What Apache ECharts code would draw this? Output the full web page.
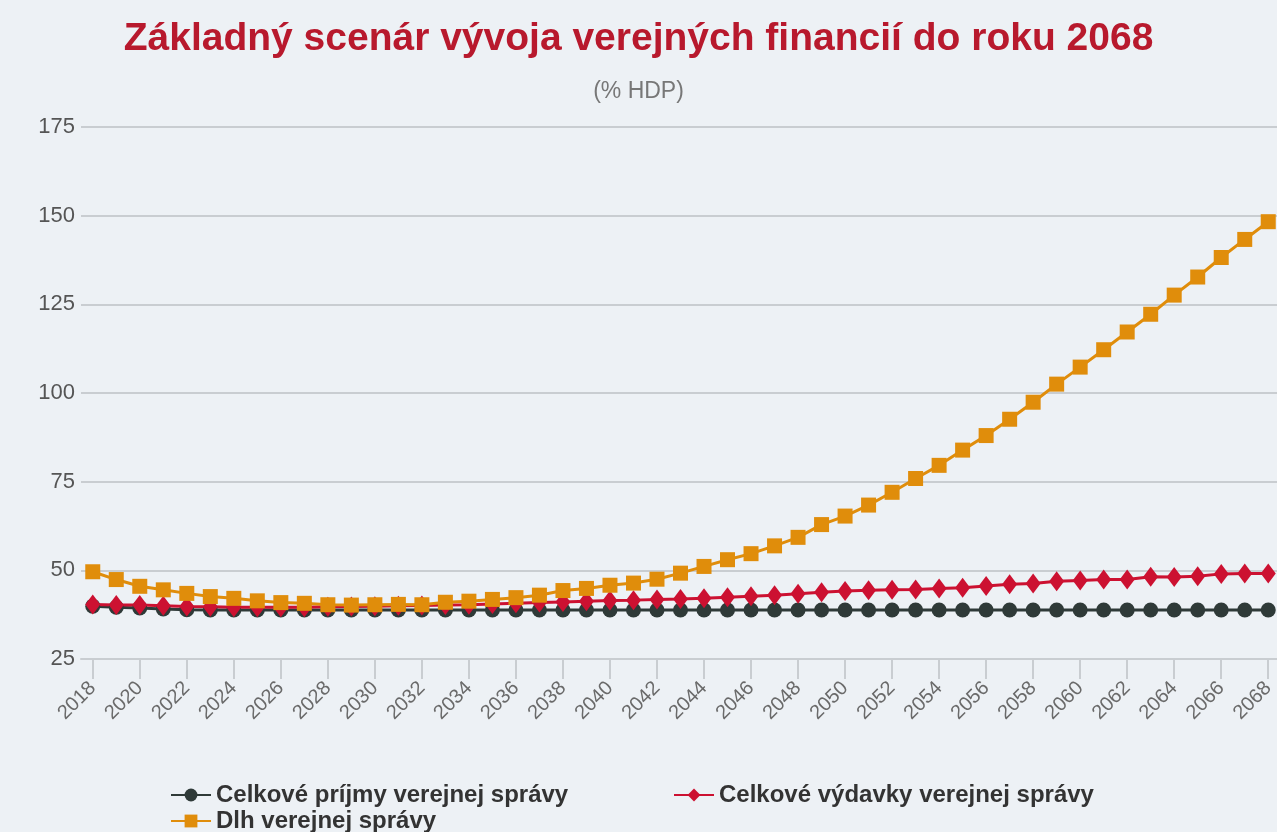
<!DOCTYPE html>
<html>
<head>
<meta charset="utf-8">
<script src="https://cdn.jsdelivr.net/npm/echarts@6/dist/echarts.min.js"></script>
<style>
html,body{margin:0;padding:0;background:#edf1f5;}
#chart{width:1277px;height:832px;}
</style>
</head>
<body>
<div id="chart"></div>
<script>
const years = [];
for (let y = 2018; y <= 2068; y++) years.push(String(y));

const revenue = [39.9,39.6,39.4,39.1,38.9,38.8,38.8,38.8,38.8,38.8,38.8,38.8,38.8,38.8,38.8,38.8,38.8,38.8,38.8,38.8,38.8,38.8,38.8,38.8,38.8,38.8,38.8,38.8,38.8,38.8,38.8,38.8,38.8,38.8,38.8,38.8,38.8,38.8,38.8,38.8,38.8,38.8,38.8,38.8,38.8,38.8,38.8,38.8,38.8,38.8,38.8];

const expenditure = [40.4,40.2,40.2,40.0,39.8,39.7,39.6,39.6,39.6,39.6,39.7,39.8,39.9,40.0,40.1,40.2,40.3,40.5,40.7,40.9,41.1,41.3,41.5,41.6,41.8,41.9,42.1,42.4,42.7,43.0,43.4,43.8,44.2,44.4,44.5,44.6,44.9,45.1,45.6,46.1,46.3,46.9,47.1,47.4,47.4,48.2,48.1,48.3,49.0,49.1,49.1];

const debt = [49.6,47.4,45.5,44.5,43.5,42.6,42.1,41.4,40.9,40.7,40.3,40.2,40.3,40.4,40.3,41.0,41.3,41.8,42.3,43.0,44.3,44.9,45.8,46.4,47.5,49.2,51.1,53.0,54.7,56.9,59.3,62.9,65.3,68.4,72.0,75.9,79.6,83.9,88.0,92.6,97.4,102.5,107.3,112.2,117.2,122.2,127.6,132.7,138.2,143.3,148.3];

const seriesNames = ['Celkové príjmy verejnej správy','Celkové výdavky verejnej správy','Dlh verejnej správy'];
const titleText = 'Základný scenár vývoja verejných financií do roku 2068';
const subtitleText = '(% HDP)';

const FONT = 'Liberation Sans, Arial, sans-serif';
const chart = echarts.init(document.getElementById('chart'));
const legendText = {fontSize:24,fontWeight:'bold',color:'#333',fontFamily:FONT};
const legendBase = {itemWidth:40,itemHeight:16,textStyle:legendText};
chart.setOption({
  backgroundColor:'#edf1f5',
  animation:false,
  textStyle:{fontFamily:FONT},
  title:[
    {text:titleText,left:'center',top:15,textStyle:{fontSize:39,fontWeight:'bold',color:'#b8192d',fontFamily:FONT}},
    {text:subtitleText,left:'center',top:75,textStyle:{fontSize:23,fontWeight:'normal',color:'#777',fontFamily:FONT}}
  ],
  legend:[
    Object.assign({data:[seriesNames[0]],left:165,top:778},legendBase),
    Object.assign({data:[seriesNames[1]],left:668,top:778},legendBase),
    Object.assign({data:[seriesNames[2]],left:165,top:804},legendBase)
  ],
  grid:{left:81,top:127,width:1199,height:532,containLabel:false,outerBoundsMode:'none'},
  xAxis:{
    type:'category',data:years,boundaryGap:true,
    axisLine:{lineStyle:{color:'#c9cdd1',width:2}},
    axisTick:{show:true,interval:1,alignWithLabel:true,length:20,lineStyle:{color:'#c9cdd1',width:2}},
    axisLabel:{interval:1,rotate:45,fontSize:20,color:'#6a6a6a',margin:26}
  },
  yAxis:{
    type:'value',min:25,max:175,interval:25,
    axisLine:{show:false},axisTick:{show:false},
    axisLabel:{fontSize:22,color:'#555',margin:6},
    splitLine:{lineStyle:{color:'#c9cdd1',width:2}}
  },
  series:[
    {name:seriesNames[0],type:'line',data:revenue,symbol:'circle',symbolSize:15,showAllSymbol:true,
     itemStyle:{color:'#2f3a38'},lineStyle:{color:'#2f3a38',width:3}},
    {name:seriesNames[1],type:'line',data:expenditure,symbol:'diamond',symbolSize:[15,20],showAllSymbol:true,
     itemStyle:{color:'#cc1131'},lineStyle:{color:'#cc1131',width:3}},
    {name:seriesNames[2],type:'line',data:debt,symbol:'rect',symbolSize:15,showAllSymbol:true,
     itemStyle:{color:'#e08d0b'},lineStyle:{color:'#e08d0b',width:3}}
  ]
});
</script>
</body>
</html>
